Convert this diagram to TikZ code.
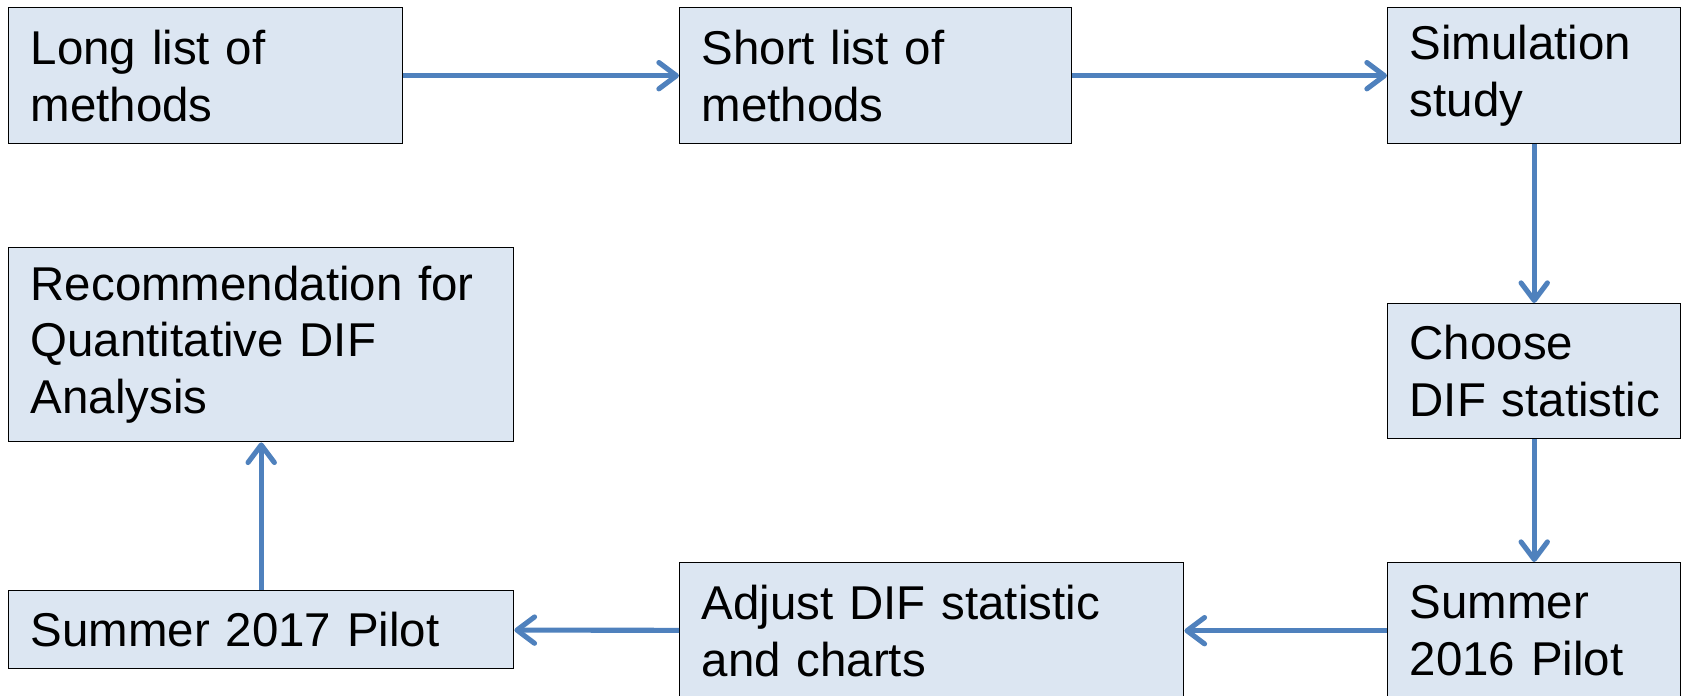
\documentclass[tikz,border=0pt]{standalone}
\usepackage{fontspec}
\setmainfont{Liberation Sans}
\usetikzlibrary{arrows.meta}
\definecolor{boxfill}{HTML}{DCE6F2}
\definecolor{flowblue}{HTML}{4F81BD}
\hyphenpenalty=10000
\exhyphenpenalty=10000

\begin{document}
\begin{tikzpicture}
[every node/.style={shape=rectangle,draw=black,line width=0.8pt,fill=boxfill,%
    anchor=north west,align=left,inner xsep=0.44cm,inner ysep=0pt,%
    font=\fontsize{27}{32.4}\selectfont},%
  flow/.style={-{Straight Barb[length=10pt,width=15pt,line cap=round,line join=round]},%
    draw=flowblue,line width=2.9pt}]
\useasboundingbox (0,0) rectangle (33.66,13.9);
%%
\node[minimum width=7.88cm,minimum height=2.72cm,text width=7.0cm]
  (long) at (0.16,13.76) {Long list of\\methods};
\node[minimum width=7.84cm,minimum height=2.72cm,text width=6.96cm]
  (short) at (13.58,13.76) {Short list of\\methods};
\node[minimum width=5.86cm,minimum height=2.72cm,text width=4.98cm]
  (sim) at (27.74,13.76) {Simulation\\study};
%%
\node[minimum width=5.86cm,minimum height=2.70cm,text width=4.98cm]
  (choose) at (27.74,7.84) {Choose\\\mbox{DIF statistic}};
%%
\node[minimum width=5.86cm,minimum height=2.72cm,text width=4.98cm]
  (pilotA) at (27.74,2.66) {Summer\\2016 Pilot};
\node[minimum width=10.08cm,minimum height=2.72cm,text width=9.2cm]
  (adjust) at (13.58,2.66) {Adjust DIF statistic\\and charts};
\node[minimum width=10.10cm,minimum height=1.56cm,text width=9.22cm]
  (pilotB) at (0.16,2.10) {Summer 2017 Pilot};
%%
\node[minimum width=10.10cm,minimum height=3.88cm,text width=9.22cm]
  (recom) at (0.16,8.96) {Recommendation for\\Quantitative DIF\\Analysis};
%%
\path
\foreach \startNode/\endNode in {long/short, short/sim, sim/choose,
  choose/pilotA, pilotA/adjust, adjust/pilotB, pilotB/recom}
{
  (\startNode) edge[flow] (\endNode)
};
\end{tikzpicture}
\end{document}
